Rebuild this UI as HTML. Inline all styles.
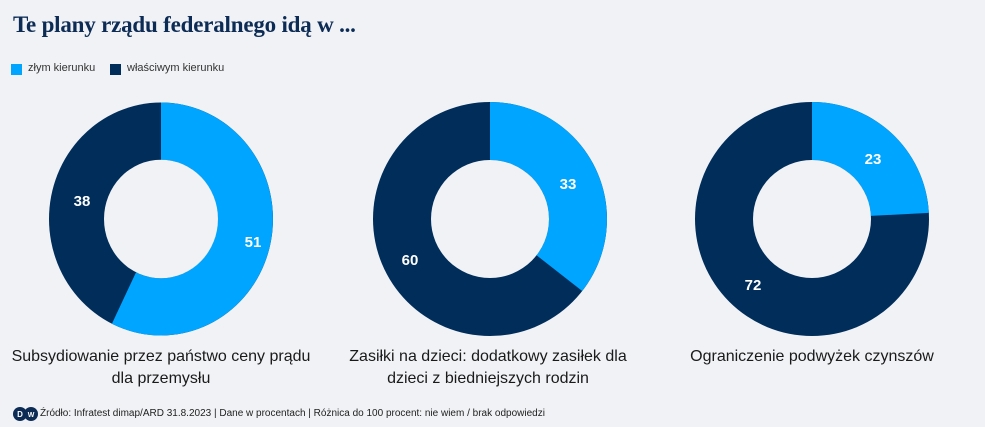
<!DOCTYPE html>
<html><head><meta charset="utf-8"><style>
body{margin:0;width:985px;height:427px;background:#f0f2f5;font-family:"Liberation Sans",sans-serif;overflow:hidden;position:relative}
.t{position:absolute;left:13px;top:12px;font-family:"Liberation Serif",serif;font-size:23px;font-weight:bold;color:#0c2b55;letter-spacing:-0.2px}
.lg{position:absolute;top:62px;font-size:11px;color:#333}
.sw{position:absolute;top:64px;width:11px;height:11px}
.cap{position:absolute;top:346px;width:330px;text-align:center;font-size:16px;line-height:22px;color:#1a1a1a}
.ft{position:absolute;left:40px;top:408px;font-size:10px;color:#222}
</style></head><body>
<div class="t">Te plany rządu federalnego idą w ...</div>
<div class="sw" style="left:11px;background:#00a5ff"></div><div class="lg" style="left:28px">złym kierunku</div>
<div class="sw" style="left:110px;background:#002d5a"></div><div class="lg" style="left:127px">właściwym kierunku</div>
<svg width="985" height="427" style="position:absolute;left:0;top:0">
<g fill-rule="evenodd">
<g transform="translate(161,219) scale(1,1.04)">
<circle r="112" fill="#002d5a"/>
<path d="M0,-112 A112,112 0 1 1 -49.1,100.7 L-25,51.3 A57,57 0 1 0 0,-57Z" fill="#00a5ff"/>
<circle r="57" fill="#f0f2f5"/>
</g>
<g transform="translate(490,219) scale(1,1)">
<circle r="117" fill="#002d5a"/>
<path d="M0,-117 A117,117 0 0 1 92.2,72 L46.5,36.3 A59,59 0 0 0 0,-59Z" fill="#00a5ff"/>
<circle r="59" fill="#f0f2f5"/>
</g>
<g transform="translate(812,219) scale(1,1)">
<circle r="117" fill="#002d5a"/>
<path d="M0,-117 A117,117 0 0 1 116.8,-6.1 L58.9,-3.1 A59,59 0 0 0 0,-59Z" fill="#00a5ff"/>
<circle r="59" fill="#f0f2f5"/>
</g>
</g>
<g fill="#fff" font-size="15" font-weight="bold" text-anchor="middle" font-family="Liberation Sans">
<text x="253" y="247">51</text><text x="82" y="206">38</text>
<text x="568" y="189">33</text><text x="410" y="265">60</text>
<text x="873" y="164">23</text><text x="753" y="290">72</text>
</g>
<circle cx="20" cy="414" r="7" fill="#0c2b55"/><circle cx="31" cy="414" r="7" fill="#0c2b55"/>
<text x="20" y="417" fill="#fff" font-size="8" font-weight="bold" text-anchor="middle">D</text>
<text x="31" y="417" fill="#fff" font-size="7" font-weight="bold" text-anchor="middle">W</text>
</svg>
<div class="cap" style="left:-4px">Subsydiowanie przez państwo ceny prądu<br>dla przemysłu</div>
<div class="cap" style="left:323px">Zasiłki na dzieci: dodatkowy zasiłek dla<br>dzieci z biedniejszych rodzin</div>
<div class="cap" style="left:647px">Ograniczenie podwyżek czynszów</div>
<div class="ft">Źródło: Infratest dimap/ARD 31.8.2023 | Dane w procentach | Różnica do 100 procent: nie wiem / brak odpowiedzi</div>
</body></html>
